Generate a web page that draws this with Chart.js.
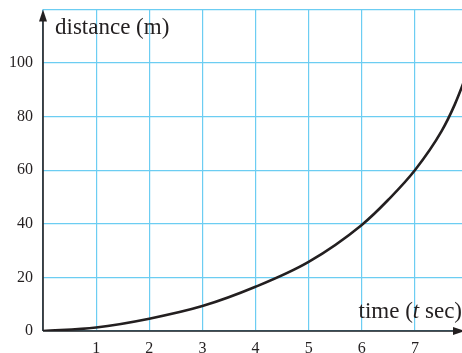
<!DOCTYPE html>
<html>
<head>
<meta charset="utf-8">
<script src="https://cdn.jsdelivr.net/npm/chart.js@4.4.0/dist/chart.umd.min.js"></script>
<style>
  html, body { margin: 0; padding: 0; overflow: hidden; background: #fff; }
  #wrap { width: 462px; height: 353px; overflow: hidden; }
</style>
</head>
<body>
<div id="wrap"><canvas id="chart" width="480" height="370"></canvas></div>
<script>
// values
const timeValues = [0, 1, 2, 3, 4, 5, 6, 6.5, 7, 7.5, 7.75, 8];
const distanceValues = [0, 1.3, 4.6, 9.3, 16.5, 25.8, 39.6, 49, 60, 74.5, 84.5, 97];

const timeAxisMax = 8;
const distanceAxisMax = 120;
const distanceStep = 20;

const yAxisTitle = "distance (m)";
const xAxisTitleParts = ["time (", "t", " sec)"];

const gridColor = "#6ccdf2";
const inkColor = "#231f20";
const serifFont = "'Liberation Serif', 'Times New Roman', serif";

const arrowAxesPlugin = {
  id: "arrowAxes",
  afterDatasetsDraw(chart) {
    const { ctx, chartArea } = chart;
    const xScale = chart.scales.x;
    const yScale = chart.scales.y;
    const originX = xScale.getPixelForValue(0);
    const originY = yScale.getPixelForValue(0);
    const tipX = chartArea.right - 3;
    const tipY = yScale.getPixelForValue(distanceAxisMax);

    ctx.save();
    ctx.strokeStyle = inkColor;
    ctx.fillStyle = inkColor;
    ctx.lineWidth = 1.6;

    ctx.beginPath();
    ctx.moveTo(originX, originY);
    ctx.lineTo(originX, tipY + 8);
    ctx.moveTo(originX, originY);
    ctx.lineTo(tipX - 8, originY);
    ctx.stroke();

    // arrow heads
    ctx.beginPath();
    ctx.moveTo(originX, tipY);
    ctx.lineTo(originX - 4, tipY + 12);
    ctx.lineTo(originX + 4, tipY + 12);
    ctx.closePath();
    ctx.fill();

    ctx.beginPath();
    ctx.moveTo(tipX, originY);
    ctx.lineTo(tipX - 12, originY - 4);
    ctx.lineTo(tipX - 12, originY + 4);
    ctx.closePath();
    ctx.fill();

    // axis titles
    ctx.textBaseline = "alphabetic";
    ctx.font = "23px " + serifFont;
    ctx.textAlign = "left";
    ctx.fillText(yAxisTitle, originX + 12, tipY + 24);

    const partFonts = ["23px " + serifFont, "italic 23px " + serifFont, "23px " + serifFont];
    let totalWidth = 0;
    xAxisTitleParts.forEach((part, partIndex) => {
      ctx.font = partFonts[partIndex];
      totalWidth += ctx.measureText(part).width;
    });
    let textX = 462 - totalWidth;
    xAxisTitleParts.forEach((part, partIndex) => {
      ctx.font = partFonts[partIndex];
      ctx.fillText(part, textX, originY - 13);
      textX += ctx.measureText(part).width;
    });

    ctx.restore();
  },
};

new Chart(document.getElementById("chart"), {
  type: "line",
  data: {
    datasets: [
      {
        data: timeValues.map((t, index) => ({ x: t, y: distanceValues[index] })),
        borderColor: inkColor,
        borderWidth: 2.6,
        pointRadius: 0,
        cubicInterpolationMode: "monotone",
        fill: false,
      },
    ],
  },
  plugins: [arrowAxesPlugin],
  options: {
    responsive: false,
    animation: false,
    events: [],
    layout: {
      padding: { top: 9.5, right: 11, left: 0, bottom: 0 },
    },
    plugins: {
      legend: { display: false },
      tooltip: { enabled: false },
    },
    scales: {
      x: {
        type: "linear",
        min: 0,
        max: timeAxisMax,
        border: { display: false },
        grid: { color: gridColor, lineWidth: 1.2, drawTicks: false },
        ticks: {
          stepSize: 1,
          padding: 8,
          color: inkColor,
          font: { family: serifFont, size: 16 },
          callback: (value) => (value === 0 ? "" : value),
        },
        afterFit(scale) {
          scale.height = 39;
        },
      },
      y: {
        min: 0,
        max: distanceAxisMax,
        border: { display: false },
        grid: { color: gridColor, lineWidth: 1.2, drawTicks: false },
        ticks: {
          stepSize: distanceStep,
          padding: 10,
          color: inkColor,
          font: { family: serifFont, size: 16 },
          callback: (value) => (value === distanceAxisMax ? "" : value),
        },
        afterFit(scale) {
          scale.width = 43;
          scale.paddingTop = 0;
          scale.paddingBottom = 0;
        },
      },
    },
  },
});
</script>
</body>
</html>
